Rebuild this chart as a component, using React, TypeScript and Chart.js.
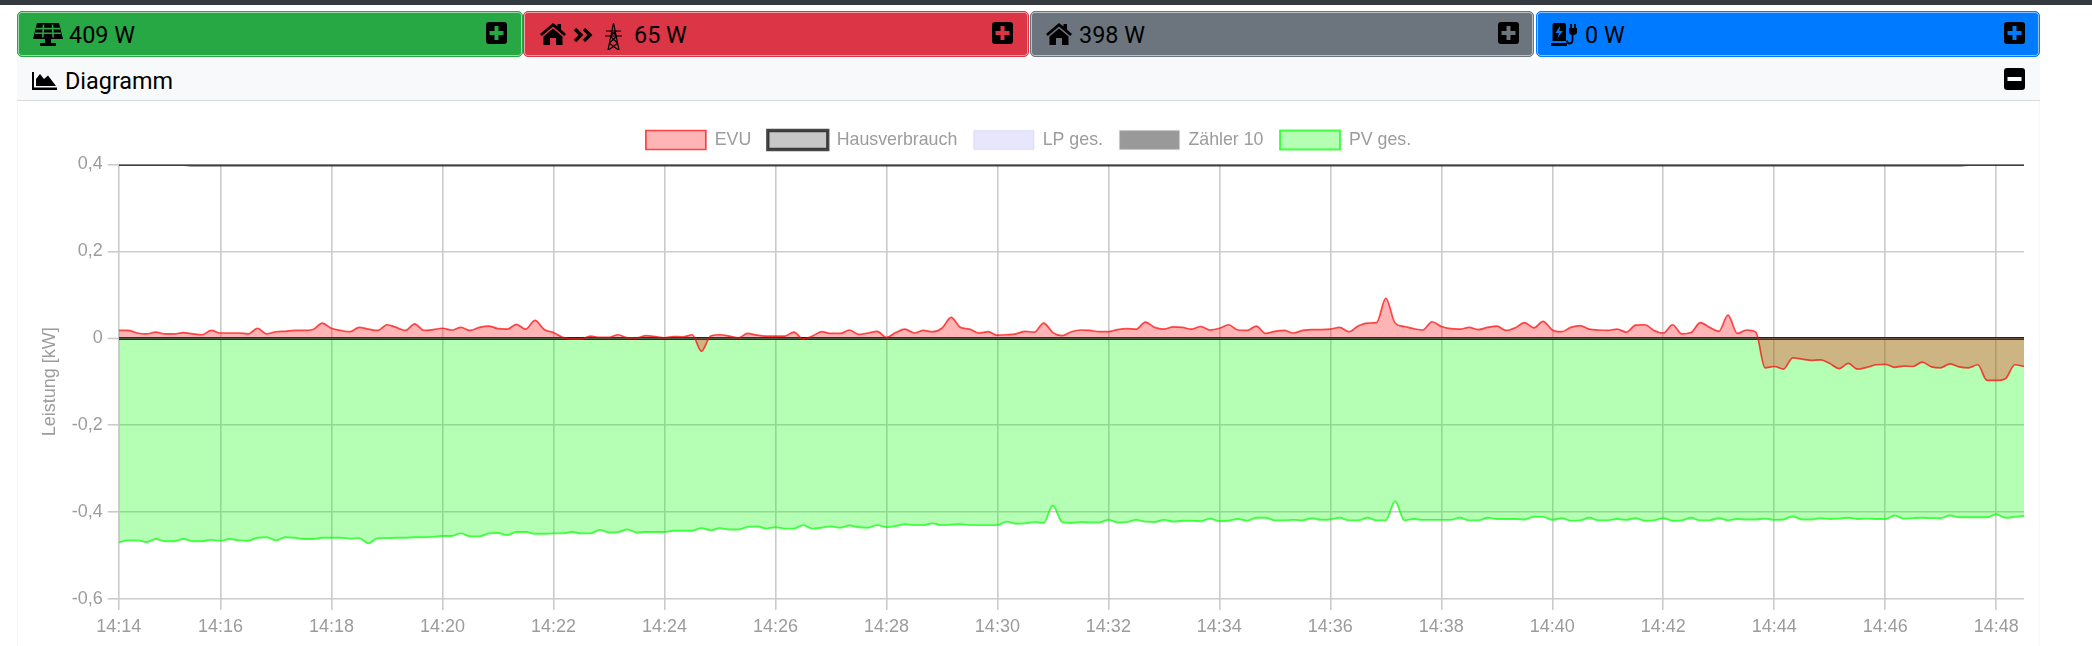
import React, { useEffect, useRef } from "react";
import { Chart, registerables } from "chart.js";

Chart.register(...registerables);

const evuWatts = [18,18,12,10,14,10,10,13,10,8,18,12,12,12,10,23,10,15,16,18,18,20,35,23,18,15,25,21,18,31,25,18,33,18,20,23,19,25,18,25,28,22,21,32,21,41,20,13,2,-2,-2,5,2,2,8,1,1,6,4,1,4,3,8,-30,5,8,5,1,11,7,5,5,5,14,-2,5,15,11,11,19,9,12,16,2,13,21,12,18,15,23,48,25,21,12,15,7,8,10,16,14,35,13,6,15,19,18,15,15,20,22,21,37,25,21,26,25,21,27,19,23,31,19,18,28,11,16,18,12,18,20,20,21,25,15,28,35,36,92,35,27,22,19,38,27,22,21,25,20,25,28,18,24,36,24,39,19,15,25,29,21,19,18,21,14,30,31,18,12,31,10,13,36,25,16,53,11,19,14,-68,-65,-71,-45,-48,-51,-50,-58,-70,-58,-71,-67,-61,-60,-67,-64,-65,-55,-66,-68,-59,-66,-68,-61,-97,-97,-93,-61,-65];
const pvWatts = [-470,-465,-465,-469,-462,-467,-467,-462,-467,-467,-464,-466,-462,-465,-466,-459,-458,-465,-458,-459,-462,-462,-459,-459,-459,-461,-460,-472,-460,-460,-459,-459,-458,-458,-457,-455,-455,-449,-456,-456,-449,-448,-453,-446,-446,-450,-450,-449,-449,-446,-449,-449,-441,-447,-446,-440,-447,-446,-446,-446,-443,-443,-443,-437,-442,-437,-440,-440,-434,-433,-438,-435,-438,-438,-430,-438,-436,-433,-436,-431,-435,-436,-430,-435,-432,-428,-430,-430,-426,-430,-429,-428,-430,-430,-430,-430,-422,-427,-426,-423,-425,-385,-423,-425,-423,-424,-424,-418,-424,-423,-418,-422,-423,-418,-422,-420,-420,-421,-415,-421,-420,-416,-420,-413,-413,-419,-419,-418,-419,-414,-418,-417,-413,-419,-419,-413,-419,-419,-375,-419,-416,-418,-418,-418,-418,-413,-419,-419,-413,-416,-416,-416,-417,-411,-411,-418,-414,-420,-419,-413,-419,-419,-416,-418,-414,-420,-419,-414,-420,-419,-413,-419,-419,-414,-419,-416,-417,-417,-415,-418,-417,-410,-417,-417,-414,-416,-415,-413,-416,-415,-416,-416,-408,-415,-414,-413,-414,-414,-408,-412,-412,-412,-412,-405,-413,-411,-409];
const sampleSeconds = 10;
const houseSeconds = [0, 70, 80, 1990, 2000, 2060];
const houseWatts = [400, 400, 399, 399, 400, 400];
const lpSeconds = [0, 2060];
const lpWatts = [0, 0];
const meterSeconds = [0, 2060];
const meterWatts = [0, 0];
const tickSeconds = [0,110,230,350,470,590,710,830,950,1070,1190,1310,1430,1550,1670,1790,1910,2030];
const tickLabels = ["14:14","14:16","14:18","14:20","14:22","14:24","14:26","14:28","14:30","14:32","14:34","14:36","14:38","14:40","14:42","14:44","14:46","14:48"];
const yTicks = [0.4, 0.2, 0, -0.2, -0.4, -0.6];

const FONT = "Roboto, sans-serif";
const AXIS = "'Liberation Sans', Arial, sans-serif";
const GRID = "#cbcbcb";
const MUTED = "#9c9c9c";

const sampled = (w: number[]) => w.map((v, i) => ({ x: i * sampleSeconds, y: v / 1000 }));
const paired = (s: number[], w: number[]) => s.map((x, i) => ({ x, y: w[i] / 1000 }));

function PlusBox({ left, top, hole, minus }: { left: number; top: number; hole: string; minus?: boolean }) {
  return (
    <svg style={{ position: "absolute", left, top }} width={21} height={22} viewBox="0 0 21 22">
      <rect x={0} y={0} width={21} height={22} rx={3} fill="#000" />
      <rect x={3.5} y={9} width={14} height={4} fill={hole} />
      {!minus && <rect x={8.5} y={4} width={4} height={14} fill={hole} />}
    </svg>
  );
}

function HomeIcon({ left, top }: { left: number; top: number }) {
  return (
    <svg style={{ position: "absolute", left, top }} width={28} height={22} viewBox="0 0 28 22">
      <path d="M14 0 L1 11 L2.8 13 L14 3.6 L25.2 13 L27 11 L22 6.6 V1 H18.5 V3.6 Z" fill="#000" />
      <path d="M14 5.5 L4.5 13.5 V22 H11 V15 H17 V22 H23.5 V13.5 Z" fill="#000" />
    </svg>
  );
}

function SolarIcon({ left, top }: { left: number; top: number }) {
  return (
    <svg style={{ position: "absolute", left, top }} width={30} height={23} viewBox="0 0 30 23">
      <path d="M4 0 H26 L30 16 H0 Z" fill="#000" />
      <path d="M10.5 1.5 L9.8 14.5 M19.5 1.5 L20.2 14.5 M3 5.6 H27 M2 10.3 H28" stroke="#28a745" strokeWidth={1.6} />
      <rect x={12} y={16} width={6} height={4} fill="#000" />
      <rect x={7} y={20} width={16} height={3} fill="#000" />
    </svg>
  );
}

function DoubleArrow({ left, top }: { left: number; top: number }) {
  return (
    <svg style={{ position: "absolute", left, top }} width={19} height={14} viewBox="0 0 19 14">
      <path d="M1 1 L7 7 L1 13 M10 1 L16 7 L10 13" fill="none" stroke="#000" strokeWidth={3.4} />
    </svg>
  );
}

function TowerIcon({ left, top }: { left: number; top: number }) {
  return (
    <svg style={{ position: "absolute", left, top }} width={19} height={27} viewBox="0 0 19 27">
      <path d="M9.5 0 L4 27 M9.5 0 L15 27 M2 8 H17 M1 13 H18 M6.5 8 L13 13 M12.5 8 L6 13 M6 13 L13.5 20 M13 13 L5.5 20 M5 20 L14.5 27 M14 20 L4.5 27" fill="none" stroke="#000" strokeWidth={1.2} />
    </svg>
  );
}

function ChargeIcon({ left, top }: { left: number; top: number }) {
  return (
    <svg style={{ position: "absolute", left, top }} width={28} height={23} viewBox="0 0 28 23">
      <path d="M1.5 2 Q1.5 0 3.5 0 H13 Q15 0 15 2 V18 H1.5 Z" fill="#000" />
      <rect x={0} y={20} width={16} height={3} fill="#000" />
      <path d="M9 3 L4.5 10 H8 L6.5 15 L12 8 H8.5 Z" fill="#007bff" />
      <path d="M21.5 10 V17 Q21.5 20.5 18.5 20.5 Q16 20.5 16 17.5" fill="none" stroke="#000" strokeWidth={1.8} />
      <path d="M18 5 H26 V9 Q26 12 22 12 Q18 12 18 9 Z" fill="#000" />
      <path d="M20 1 V5 M24 1 V5" stroke="#000" strokeWidth={1.8} />
    </svg>
  );
}

function AreaIcon({ left, top }: { left: number; top: number }) {
  return (
    <svg style={{ position: "absolute", left, top }} width={25} height={18} viewBox="0 0 25 18">
      <path d="M0 0 H2 V15.5 H25 V18 H0 Z" fill="#000" />
      <path d="M4 14 V7 L8 2 L12 7 L16 3.5 L24 14 Z" fill="#000" />
    </svg>
  );
}

function Tile({ left, width, color, children }: { left: number; width: number; color: string; children: React.ReactNode }) {
  return (
    <div
      style={{
        position: "absolute",
        left,
        top: 11,
        width,
        height: 46,
        boxSizing: "border-box",
        background: color,
        border: `1px solid ${color}`,
        borderRadius: 5,
        boxShadow: "inset 0 0 0 1px rgba(255,255,255,0.55)",
      }}
    >
      <div style={{ position: "absolute", left: -left - 1, top: -12, width: 2092 }}>{children}</div>
    </div>
  );
}

function Label({ left, top, text }: { left: number; top: number; text: string }) {
  return (
    <span style={{ position: "absolute", left, top, fontFamily: FONT, fontSize: 23.4, lineHeight: "28px", color: "#000", whiteSpace: "nowrap" }}>
      {text}
    </span>
  );
}

const legendHeight = {
  id: "legendHeight",
  beforeLayout(chart: any) {
    const legend = chart.legend;
    if (legend && !legend.__fitted) {
      legend.__fitted = true;
      const fit = legend.fit;
      legend.fit = function () {
        fit.call(this);
        this.height = 50.4;
      };
    }
  },
};

export default function App() {
  const ref = useRef<HTMLCanvasElement | null>(null);

  useEffect(() => {
    if (!ref.current) return;
    const chart = new Chart(ref.current, {
      type: "line",
      plugins: [legendHeight],
      data: {
        datasets: [
          { label: "EVU", data: sampled(evuWatts), borderColor: "rgba(255,0,0,0.7)", backgroundColor: "rgba(255,10,13,0.3)", borderWidth: 1.7, fill: "origin" },
          { label: "Hausverbrauch", data: paired(houseSeconds, houseWatts), borderColor: "rgba(0,0,0,0.72)", backgroundColor: "rgba(0,0,0,0.22)", borderWidth: 3.3, fill: false },
          { label: "LP ges.", data: paired(lpSeconds, lpWatts), borderColor: "rgba(170,170,240,0.2)", backgroundColor: "rgba(60,60,230,0.13)", borderWidth: 1.5, fill: false },
          { label: "Zähler 10", data: paired(meterSeconds, meterWatts), borderColor: "rgba(190,190,190,0.2)", backgroundColor: "rgba(0,0,0,0.4)", borderWidth: 1.5, fill: false },
          { label: "PV ges.", data: sampled(pvWatts), borderColor: "rgba(0,255,0,0.7)", backgroundColor: "rgba(0,255,0,0.29)", borderWidth: 1.9, fill: "origin" },
        ],
      },
      options: {
        animation: false,
        responsive: false,
        maintainAspectRatio: false,
        parsing: false as any,
        normalized: true,
        elements: { point: { radius: 0 }, line: { cubicInterpolationMode: "monotone" } },
        layout: { padding: { top: 13, right: 16, left: 16, bottom: 0 } },
        plugins: {
          tooltip: { enabled: false },
          legend: {
            position: "top",
            align: "center",
            labels: {
              boxWidth: 60,
              boxHeight: 19,
              padding: 16.5,
              color: MUTED,
              font: { family: AXIS, size: 17.8 },
            },
          },
        },
        scales: {
          x: {
            type: "linear",
            min: 0,
            max: 2060,
            afterBuildTicks: (s: any) => {
              s.ticks = tickSeconds.map((value) => ({ value }));
            },
            afterFit: (s: any) => {
              s.height = 47;
            },
            grid: { color: GRID, lineWidth: 1.6, tickLength: 11, drawTicks: true },
            border: { display: false },
            ticks: {
              autoSkip: false,
              maxRotation: 0,
              minRotation: 0,
              color: MUTED,
              padding: 6,
              font: { family: AXIS, size: 18 },
              callback: (_v: any, i: number) => tickLabels[i],
            },
          },
          y: {
            type: "linear",
            min: -0.6,
            max: 0.4,
            afterBuildTicks: (s: any) => {
              s.ticks = yTicks.map((value) => ({ value }));
            },
            afterFit: (s: any) => {
              s.width = 85.75;
            },
            grid: {
              color: (c: any) => (c.tick && c.tick.value === 0 ? "#000" : GRID),
              lineWidth: (c: any) => (c.tick && c.tick.value === 0 ? 2.9 : 1.6),
              tickColor: GRID,
              tickWidth: 1.6,
              tickLength: 11,
            },
            border: { display: false },
            title: {
              display: true,
              text: "Leistung [kW]",
              color: MUTED,
              font: { family: AXIS, size: 18 },
              padding: { top: 6, bottom: 0 },
            },
            ticks: {
              color: MUTED,
              padding: 5,
              font: { family: AXIS, size: 18 },
              callback: (v: any) => (v === 0 ? "0" : Number(v).toFixed(1).replace(".", ",")),
            },
          },
        },
      },
    });
    return () => chart.destroy();
  }, []);

  return (
    <div style={{ position: "absolute", left: 0, top: 0, width: 2092, height: 646, overflow: "hidden", background: "#fff" }}>
      <div style={{ position: "absolute", left: 0, top: 0, width: 2092, height: 5, background: "#343a40" }} />
      <div style={{ position: "absolute", left: 17, top: 57, width: 2023, height: 640, boxSizing: "border-box", border: "1px solid rgba(0,0,0,0.03)" }} />
      <div style={{ position: "absolute", left: 17, top: 57, width: 2023, height: 44, boxSizing: "border-box", background: "#f8f9fa", borderBottom: "1px solid #d9dadc" }}>
        <div style={{ position: "absolute", left: -17, top: -57, width: 2092 }}>
          <AreaIcon left={32} top={72} />
          <Label left={65} top={67} text="Diagramm" />
          <PlusBox left={2004} top={68} hole="#fff" minus />
        </div>
      </div>
      <Tile left={17} width={506} color="#28a745">
        <SolarIcon left={33} top={23} />
        <Label left={69} top={21} text="409 W" />
        <PlusBox left={486} top={22} hole="#28a745" />
      </Tile>
      <Tile left={523} width={506} color="#dc3545">
        <HomeIcon left={539} top={23} />
        <DoubleArrow left={574} top={28} />
        <TowerIcon left={604} top={23} />
        <Label left={634} top={21} text="65 W" />
        <PlusBox left={992} top={22} hole="#dc3545" />
      </Tile>
      <Tile left={1030} width={504} color="#6c757d">
        <HomeIcon left={1045} top={23} />
        <Label left={1079} top={21} text="398 W" />
        <PlusBox left={1498} top={22} hole="#6c757d" />
      </Tile>
      <Tile left={1536} width={504} color="#007bff">
        <ChargeIcon left={1551} top={23} />
        <Label left={1585} top={21} text="0 W" />
        <PlusBox left={2004} top={22} hole="#007bff" />
      </Tile>
      <canvas ref={ref} width={2023} height={545} style={{ position: "absolute", left: 17, top: 101, width: 2023, height: 545 }} />
    </div>
  );
}
